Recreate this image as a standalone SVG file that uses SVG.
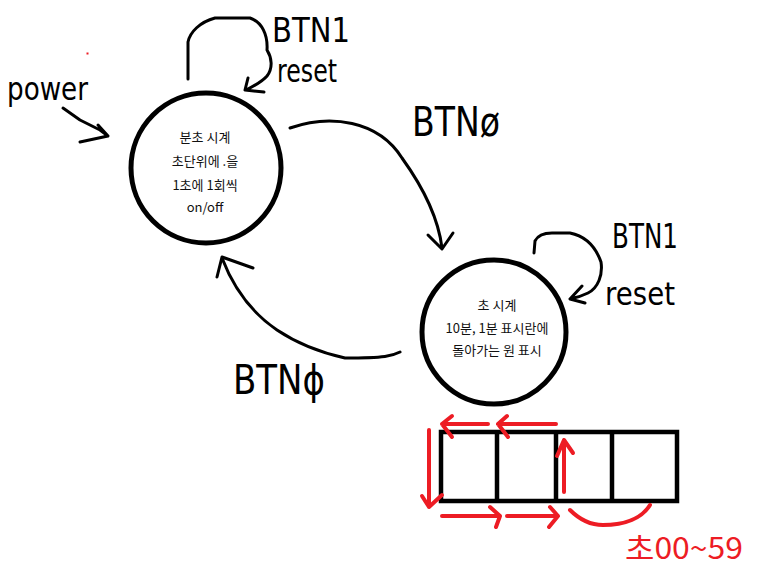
<svg xmlns="http://www.w3.org/2000/svg" width="759" height="577" viewBox="0 0 759 577">
<style>
.node{fill:#fff;stroke:#000;stroke-width:5}
.lbl{font-family:"Noto Sans CJK KR","Noto Sans",sans-serif;font-size:13px;fill:#111;text-anchor:middle}
.hand{font-family:"DejaVu Sans","Liberation Sans",sans-serif;fill:#000}
.ink{fill:none;stroke:#000;stroke-width:3;stroke-linecap:round;stroke-linejoin:round}
.red{fill:none;stroke:#ED1C24;stroke-width:4;stroke-linecap:round;stroke-linejoin:round}
.box{fill:#fff;stroke:#000;stroke-width:4.5}
.div{stroke:#000;stroke-width:4.5}
</style>
<rect width="759" height="577" fill="#fff"/>
<g id="display">
  <rect class="box" x="441" y="432" width="236" height="69"/>
  <line class="div" x1="497" y1="432" x2="497" y2="501"/>
  <line class="div" x1="556" y1="432" x2="556" y2="501"/>
  <line class="div" x1="612" y1="432" x2="612" y2="501"/>
</g>
<g id="connectors">
  <!-- power arrow -->
  <path class="ink" d="M63,108 L80,120 L100,130 L108,136 M98,125 L108,136 L80,142"/>
  <!-- self loop circle 1 -->
  <path class="ink" d="M188,79 L188,42 C190,32 200,22 215,18 L250,18 C262,22 268,35 267,50 C272,58 273,68 267,76 C262,82 254,86 246,90 M248,78 L245,90 L264,92"/>
  <!-- circle1 to circle2 -->
  <path class="ink" d="M290,128 C330,114 378,120 402,158 C420,183 438,215 442,248 M428,235 L442,249 L453,233"/>
  <!-- self loop circle 2 -->
  <path class="ink" d="M534,253 L535,241 C538,235 545,233 552,233 L570,233 C585,236 595,245 601,262 C603,275 598,288 588,293 C580,297 575,298 570,299 M582,286 L570,299 L585,303"/>
  <!-- circle2 to circle1 -->
  <path class="ink" d="M400,352 C392,356 386,358 345,358 C318,352 295,342 277,330 C255,315 235,292 222,258 M253,268 L222,257 L217,277"/>
  <!-- red arrows -->
  <path class="red" d="M488,424 L442,424 M452,416 L442,424 L452,437"/>
  <path class="red" d="M556,424 L498,424 M507,416 L498,424 L508,437"/>
  <path class="red" d="M429,430 L429,507 M422,496 L429,507 L442,495"/>
  <path class="red" d="M442,516 L500,516 M490,507 L500,516 L496,527"/>
  <path class="red" d="M507,516 L558,516 M550,507 L558,516 L549,527"/>
  <path class="red" d="M564,492 L564,440 M557,456 L564,440 L573,453"/>
  <path class="red" d="M570,510 C580,520 590,525 603,525 C625,525 642,518 650,505"/>
  <rect x="86.5" y="52.5" width="2" height="2" fill="#ED1C24"/>
</g>
<g id="node-minsec">
  <circle class="node" cx="206" cy="168" r="75"/>
  <text class="lbl" x="205" y="142">분초 시계</text>
  <text class="lbl" x="205" y="166">초단위에 .을</text>
  <text class="lbl" x="205" y="190">1초에 1회씩</text>
  <text class="lbl" x="205" y="212">on/off</text>
</g>
<g id="node-sec">
  <circle class="node" cx="494" cy="332" r="72"/>
  <text class="lbl" x="497" y="310">초 시계</text>
  <text class="lbl" x="497" y="333">10분, 1분 표시란에</text>
  <text class="lbl" x="497" y="355">돌아가는 원 표시</text>
</g>
<g id="labels">
  <text class="hand" x="272" y="42" font-size="34" textLength="78" lengthAdjust="spacingAndGlyphs">BTN1</text>
  <text class="hand" x="277" y="82" font-size="32" textLength="60" lengthAdjust="spacingAndGlyphs">reset</text>
  <text class="hand" x="7" y="100" font-size="32" textLength="81" lengthAdjust="spacingAndGlyphs">power</text>
  <text class="hand" x="412" y="136" font-size="40" textLength="88" lengthAdjust="spacingAndGlyphs">BTNø</text>
  <text class="hand" x="612" y="248" font-size="34" textLength="66" lengthAdjust="spacingAndGlyphs">BTN1</text>
  <text class="hand" x="605" y="305" font-size="32" textLength="70" lengthAdjust="spacingAndGlyphs">reset</text>
  <text class="hand" x="233" y="394" font-size="40" textLength="92" lengthAdjust="spacingAndGlyphs">BTNϕ</text>
  <text x="625" y="559" font-family="Noto Sans CJK KR,Noto Sans,sans-serif" font-size="30" fill="#ED1C24" textLength="118" lengthAdjust="spacingAndGlyphs">초00~59</text>
</g>
</svg>
